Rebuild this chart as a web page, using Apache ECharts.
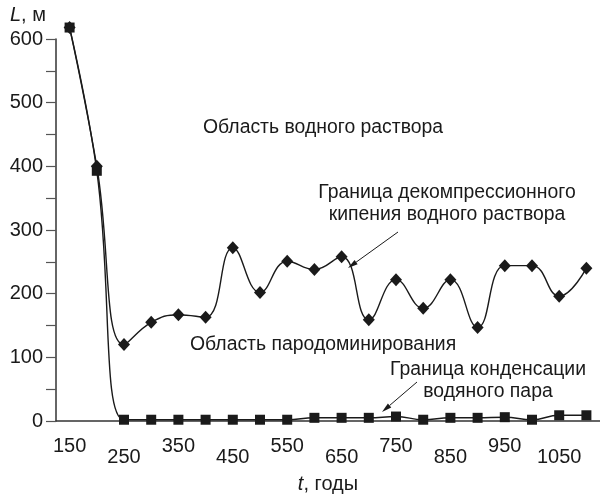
<!DOCTYPE html>
<html>
<head>
<meta charset="utf-8">
<script src="https://cdn.jsdelivr.net/npm/echarts@6/dist/echarts.min.js"></script>
<style>
html,body{margin:0;padding:0;background:#fff;}
#chart{width:600px;height:494px;}
</style>
</head>
<body>
<div id="chart"></div>
<script>
//годы (категории оси X)
var years = ['150','200','250','300','350','400','450','500','550','600','650','700','750','800','850','900','950','1000','1050','1100'];
//граница декомпрессионного кипения водного раствора, м
var boilLine = [618,400,120,155,167,163,272,202,251,238,258,159,222,177,222,147,244,244,196,240];
//граница конденсации водяного пара, м
var condLine = [618,393,2,2,2,2,2,2,2,5,5,5,7,2,5,5,6,2,9,9];
//подписи оси Y
var yLabels = [0,100,200,300,400,500,600];

var fontName = '"Liberation Sans", Arial, sans-serif';
var ink = '#1a1a1a';

//стрелка выноски: линия + треугольник на конце
function arrow(x1,y1,x2,y2){
	var dx = x2-x1, dy = y2-y1;
	var len = Math.sqrt(dx*dx+dy*dy);
	var ux = dx/len, uy = dy/len;
	var bx = x2-ux*10, by = y2-uy*10;
	var px = -uy*2.6, py = ux*2.6;
	return [
		{type:'line', shape:{x1:x1,y1:y1,x2:bx,y2:by}, style:{stroke:ink,lineWidth:1}},
		{type:'polygon', shape:{points:[[x2,y2],[bx+px,by+py],[bx-px,by-py]]}, style:{fill:ink}}
	];
}

function label(text,x,y,align){
	return {type:'text', x:x, y:y, style:{text:text, fontSize:19.4, fontFamily:fontName, fill:ink,
		align:align||'left', verticalAlign:'middle', lineHeight:22}};
}

var graphics = [
	label('Область водного раствора',203,128),
	label('Граница декомпрессионного\nкипения водного раствора',447,204,'center'),
	label('Область пародоминирования',190,345),
	label('Граница конденсации\nводяного пара',488,381,'center'),
	//подпись оси Y
	{type:'text', x:10, y:15, style:{
		text:'{i|L}{n|, м}', verticalAlign:'middle',
		rich:{
			i:{fontStyle:'italic',fontSize:20,fontFamily:fontName,fill:ink,color:ink},
			n:{fontSize:20,fontFamily:fontName,fill:ink,color:ink}
		}
	}}
].concat(arrow(398,232,348,268)).concat(arrow(417,382,382,412));

var chart = echarts.init(document.getElementById('chart'));
var option = {
	backgroundColor:'#fff',
	animation:false,
	textStyle:{fontFamily:fontName},
	grid:{left:56, right:0, top:39, bottom:73, containLabel:false, outerBoundsMode:'none'},
	xAxis:{
		type:'category',
		data:years,
		boundaryGap:true,
		name:'{i|t}, годы',
		nameLocation:'middle',
		nameGap:53,
		nameTextStyle:{fontSize:20,color:ink,rich:{i:{fontStyle:'italic',fontSize:20,color:ink}}},
		axisLine:{lineStyle:{color:'#333',width:1.5}},
		axisTick:{interval:0, length:11, lineStyle:{color:'#555',width:1.2}},
		axisLabel:{
			interval:1,
			margin:15,
			formatter:function(v,idx){
				//подписи в шахматном порядке
				return (idx/2)%2===0 ? '{a|'+v+'}' : '{b|'+v+'}';
			},
			rich:{
				a:{fontSize:20,color:ink,lineHeight:20},
				b:{fontSize:20,color:ink,lineHeight:42}
			}
		},
		splitLine:{show:false}
	},
	yAxis:{
		type:'value',
		min:0, max:600, interval:50,
		axisLine:{show:true,lineStyle:{color:'#333',width:1.5}},
		axisTick:{show:true, length:10, lineStyle:{color:'#555',width:1.2}},
		axisLabel:{
			margin:13, fontSize:20, color:ink,
			formatter:function(v){ return yLabels.indexOf(v)>=0 ? v : ''; }
		},
		splitLine:{show:false}
	},
	graphic:graphics,
	series:[
		{
			name:'Граница декомпрессионного кипения водного раствора',
			type:'line',
			data:boilLine,
			smooth:0.45,
			clip:false,
			symbol:'diamond',
			symbolSize:[12,13],
			lineStyle:{color:ink,width:1.4},
			itemStyle:{color:ink}
		},
		{
			name:'Граница конденсации водяного пара',
			type:'line',
			data:condLine,
			smooth:0.45,
			clip:false,
			symbol:'rect',
			symbolSize:10,
			lineStyle:{color:ink,width:1.4},
			itemStyle:{color:ink}
		}
	]
};
chart.setOption(option);
</script>
</body>
</html>
